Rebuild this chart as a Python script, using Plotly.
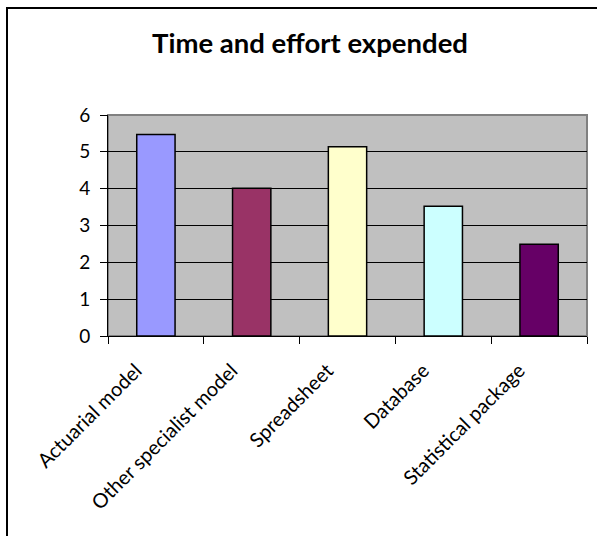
import plotly.graph_objects as go

categories = ["Actuarial model", "Other specialist model", "Spreadsheet", "Database", "Statistical package"]
values = [5.47, 4.01, 5.14, 3.52, 2.49]
colors = ["#9999FF", "#993366", "#FFFFCC", "#CCFFFF", "#660066"]
y_ticks = [0, 1, 2, 3, 4, 5, 6]
title_text = "Time and effort expended"

W, H = 597, 536
L, R, T, B = 108, 10, 115, 200
pw, ph = W - L - R, H - T - B

FONT = "Lato"

fig = go.Figure(go.Bar(
    x=categories, y=values,
    marker=dict(color=colors, line=dict(color="black", width=1.5)),
    width=0.4,
))

def px_to_paper_x(px):
    return (px - L) / pw

def px_to_paper_y(py):
    return (H - B - py) / ph

bx0 = px_to_paper_x(7)
bx1 = px_to_paper_x(W)
by0 = px_to_paper_y(H)
by1 = px_to_paper_y(8)

fig.update_layout(
    width=W, height=H,
    margin=dict(l=L, r=R, t=T, b=B),
    paper_bgcolor="white",
    plot_bgcolor="#C0C0C0",
    showlegend=False,
    title=dict(text="<b>" + title_text + "</b>", x=310 / W, xanchor="center",
               y=1 - 43 / H, yanchor="middle", yref="container",
               font=dict(family=FONT, size=27.5, color="black")),
    xaxis=dict(
        tickangle=-45, tickfont=dict(family=FONT, size=20, color="black"),
        showline=True, linecolor="black", linewidth=1,
        ticks="outside", tickson="boundaries", ticklen=7, tickcolor="black",
        showgrid=False, range=[-0.5, 4.5],
        ticklabelshift=-20, ticklabelstandoff=14,
    ),
    yaxis=dict(
        range=[0, 6], tickvals=y_ticks, ticktext=[str(v) for v in y_ticks],
        tickfont=dict(family=FONT, size=19, color="black"),
        showline=True, linecolor="black", linewidth=1,
        ticks="outside", ticklen=7, tickcolor="black",
        showgrid=True, gridcolor="black", gridwidth=1,
        zeroline=False, ticklabelstandoff=6,
    ),
    shapes=[
        dict(type="rect", xref="paper", yref="paper", x0=0, x1=1, y0=0, y1=1,
             line=dict(color="#808080", width=2), layer="below"),
        dict(type="rect", xref="paper", yref="paper",
             x0=px_to_paper_x(591), x1=px_to_paper_x(W),
             y0=px_to_paper_y(H), y1=px_to_paper_y(10),
             line=dict(width=0), fillcolor="white"),
        dict(type="path", xref="paper", yref="paper",
             path=f"M {bx0},{by0} L {bx0},{by1} L {bx1},{by1}",
             line=dict(color="black", width=2)),
    ],
)

fig.write_html("out.html")
